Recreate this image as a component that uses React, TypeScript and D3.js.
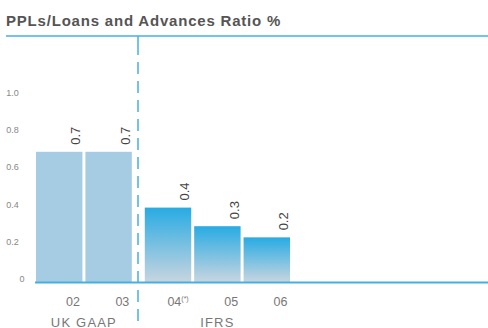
import { useEffect, useRef } from 'react';
import * as d3 from 'd3';

const years = ['02', '03', '04', '05', '06'];
const ratio = [0.7, 0.7, 0.4, 0.3, 0.24];
const valueLabels = ['0.7', '0.7', '0.4', '0.3', '0.2'];
const basis = ['UK GAAP', 'UK GAAP', 'IFRS', 'IFRS', 'IFRS'];
const groups = ['UK GAAP', 'IFRS'];
const yTicks = [0, 0.2, 0.4, 0.6, 0.8, 1.0];

const blue = '#45b0e0';
const font = 'Liberation Sans, Arial, sans-serif';

function App() {
  const ref = useRef<SVGSVGElement>(null);

  useEffect(() => {
    const svg = d3.select(ref.current);
    svg.selectAll('*').remove();

    const W = 488;
    const gap = 10; // extra space between UK GAAP and IFRS bars

    const y = d3.scaleLinear().domain([0, 1]).range([282, 96]);
    const x = d3.scaleBand().domain(years).range([36, 280]).paddingInner(0.06);
    const xPos = (d: string) => (x(d) as number) + (basis[years.indexOf(d)] === 'IFRS' ? gap : 0);
    const bw = x.bandwidth();

    const defs = svg.append('defs');
    const grad = defs.append('linearGradient').attr('id', 'ifrs').attr('x1', 0).attr('y1', 0).attr('x2', 0).attr('y2', 1);
    grad.append('stop').attr('offset', '0%').attr('stop-color', '#28abe3');
    grad.append('stop').attr('offset', '100%').attr('stop-color', '#c8d5df');

    // title
    svg.append('text')
      .attr('x', 6).attr('y', 25.5)
      .attr('font-family', font).attr('font-size', 15).attr('font-weight', 'bold')
      .attr('letter-spacing', 0.8)
      .attr('fill', '#555')
      .text('PPLs/Loans and Advances Ratio %');

    svg.append('line')
      .attr('x1', 6).attr('x2', W).attr('y1', 36).attr('y2', 36)
      .attr('stroke', blue).attr('stroke-width', 1.5);

    // y tick labels
    svg.append('g').selectAll('text')
      .data(yTicks)
      .enter()
      .append('text')
      .attr('x', (d) => (d === 0 ? 22 : 12.5))
      .attr('y', (d) => y(d))
      .attr('text-anchor', 'middle')
      .attr('font-family', font).attr('font-size', 9)
      .attr('fill', '#888')
      .text((d) => (d === 0 ? '0' : d3.format('.1f')(d)));

    // bars
    svg.append('g').selectAll('rect')
      .data(years)
      .enter()
      .append('rect')
      .attr('x', (d) => xPos(d))
      .attr('y', (d, i) => y(ratio[i]))
      .attr('width', bw)
      .attr('height', (d, i) => y(0) - y(ratio[i]))
      .attr('fill', (d, i) => (basis[i] === 'IFRS' ? 'url(#ifrs)' : '#a6cce3'));

    // value labels
    svg.append('g').selectAll('text')
      .data(years)
      .enter()
      .append('text')
      .attr('transform', (d, i) => `translate(${xPos(d) + bw - 2},${y(ratio[i]) - 7}) rotate(-90)`)
      .attr('font-family', font).attr('font-size', 13)
      .attr('fill', '#444')
      .text((d, i) => valueLabels[i]);

    // baseline
    svg.append('line')
      .attr('x1', 35).attr('x2', W).attr('y1', 282.5).attr('y2', 282.5)
      .attr('stroke', blue).attr('stroke-width', 2);

    // x labels
    const xl = svg.append('g').selectAll('text')
      .data(years)
      .enter()
      .append('text')
      .attr('x', (d) => xPos(d) + bw - 2.5)
      .attr('y', 306)
      .attr('text-anchor', 'end')
      .attr('font-family', font).attr('font-size', 12.5)
      .attr('fill', '#777');
    xl.append('tspan').text((d) => d);
    xl.filter((d) => d === '04')
      .append('tspan')
      .attr('font-size', 7)
      .attr('dy', -5)
      .text('(*)');

    // group labels
    svg.append('g').selectAll('text')
      .data(groups)
      .enter()
      .append('text')
      .attr('x', (g) => {
        const ys = years.filter((d, i) => basis[i] === g);
        return (xPos(ys[0]) + xPos(ys[ys.length - 1]) + bw) / 2;
      })
      .attr('y', 326.5)
      .attr('text-anchor', 'middle')
      .attr('font-family', font).attr('font-size', 13)
      .attr('letter-spacing', 1.2)
      .attr('fill', '#777')
      .text((g) => g);

    // divider between UK GAAP and IFRS
    const divX = 138;
    svg.append('line')
      .attr('x1', divX).attr('x2', divX).attr('y1', 36).attr('y2', 55)
      .attr('stroke', blue).attr('stroke-width', 1.5);
    svg.append('line')
      .attr('x1', divX).attr('x2', divX).attr('y1', 62).attr('y2', 328)
      .attr('stroke', blue).attr('stroke-width', 1.5)
      .attr('stroke-dasharray', '12,7');
  }, []);

  return (
    <svg ref={ref} width={488} height={328}
      style={{ position: 'absolute', left: 0, top: 0, background: '#fff' }} />
  );
}

export default App;
